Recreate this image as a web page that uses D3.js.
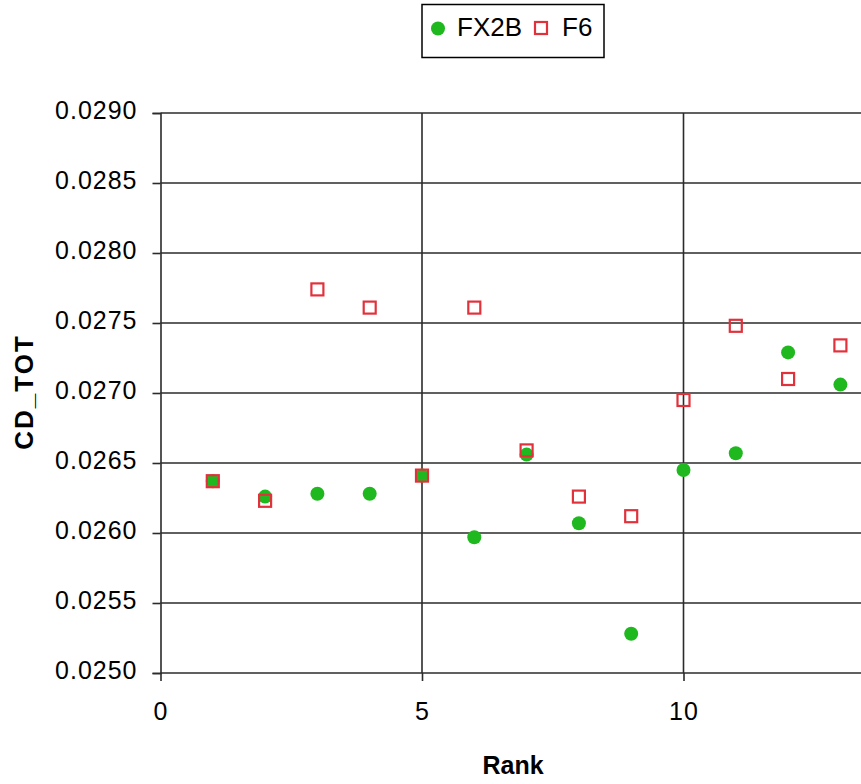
<!DOCTYPE html>
<html>
<head>
<meta charset="utf-8">
<script src="https://cdn.jsdelivr.net/npm/d3@7"></script>
<style>
  html, body { margin: 0; padding: 0; background: #fff; }
  svg { display: block; overflow: hidden; }
  text { font-family: Arial, "Liberation Sans", sans-serif; fill: #000; }
</style>
</head>
<body>
<script>
// Rank of each design
const ranks = [1, 2, 3, 4, 5, 6, 7, 8, 9, 10, 11, 12, 13];
// Total drag coefficient per rank, for each series
const fx2b = [0.02637, 0.02626, 0.02628, 0.02628, 0.02641, 0.02597, 0.02656, 0.02607, 0.02528, 0.02645, 0.02657, 0.02729, 0.02706];
const f6   = [0.02637, 0.02623, 0.02774, 0.02761, 0.02641, 0.02761, 0.02659, 0.02626, 0.02612, 0.02695, 0.02748, 0.02710, 0.02734];
// Axis ticks
const yTicks = [0.0250, 0.0255, 0.0260, 0.0265, 0.0270, 0.0275, 0.0280, 0.0285, 0.0290];
const xTicks = [0, 5, 10];
const seriesNames = ["FX2B", "F6"];

const W = 861, H = 784;
const plotLeft = 160.5, plotTop = 113, plotBottom = 673;
const unit = 52.3;

const svg = d3.select("body").append("svg").attr("width", W).attr("height", H);

const x = d3.scaleLinear().domain([0, 14]).range([plotLeft, plotLeft + 14 * unit]);
const y = d3.scaleLinear().domain([0.0250, 0.0290]).range([plotBottom, plotTop]);

const gridColor = "#2b2b2b";
const green = "#1fb81f";
const red = "#e1323c";
const font = "Arial, 'Liberation Sans', sans-serif";

// Horizontal gridlines
svg.append("g").selectAll("line").data(yTicks).join("line")
  .attr("x1", plotLeft).attr("x2", W + 40)
  .attr("y1", d => y(d)).attr("y2", d => y(d))
  .attr("stroke", gridColor).attr("stroke-width", 1.6);

// Vertical gridlines
svg.append("g").selectAll("line").data(xTicks.filter(d => d > 0)).join("line")
  .attr("x1", d => x(d)).attr("x2", d => x(d))
  .attr("y1", plotTop).attr("y2", plotBottom)
  .attr("stroke", gridColor).attr("stroke-width", 1.6);

// Y axis
const yAxis = svg.append("g").attr("transform", `translate(${plotLeft},0)`)
  .call(d3.axisLeft(y).tickValues(yTicks).tickFormat(d3.format(".4f")).tickSize(8).tickPadding(15));
yAxis.select(".domain").attr("stroke", gridColor).attr("stroke-width", 1.6);
yAxis.selectAll(".tick line").attr("stroke", gridColor).attr("stroke-width", 1.6);
yAxis.selectAll(".tick text").attr("font-size", 25).attr("dy", "0.2em")
  .attr("letter-spacing", 1).style("font-family", font);

// X axis
const xAxis = svg.append("g").attr("transform", `translate(0,${plotBottom})`)
  .call(d3.axisBottom(x).tickValues(xTicks).tickFormat(d3.format("d")).tickSize(8).tickPadding(21));
xAxis.select(".domain").remove();
xAxis.selectAll(".tick line").attr("stroke", gridColor).attr("stroke-width", 1.6);
xAxis.selectAll(".tick text").attr("font-size", 25)
  .attr("letter-spacing", 1).style("font-family", font);

// Axis titles
svg.append("text").attr("x", 513).attr("y", 774).attr("text-anchor", "middle")
  .attr("font-size", 25).attr("font-weight", "bold").text("Rank");
svg.append("text").attr("transform", `translate(33,${392}) rotate(-90)`)
  .attr("text-anchor", "middle").attr("font-size", 26).attr("font-weight", "bold")
  .attr("letter-spacing", 2).text("CD_TOT");

// FX2B markers
svg.append("g").selectAll("circle").data(ranks).join("circle")
  .attr("cx", (d) => x(d)).attr("cy", (d, i) => y(fx2b[i])).attr("r", 7)
  .attr("fill", green);

// F6 markers
const s = 12;
svg.append("g").selectAll("rect").data(ranks).join("rect")
  .attr("x", d => x(d) - s / 2).attr("y", (d, i) => y(f6[i]) - s / 2)
  .attr("width", s).attr("height", s)
  .attr("fill", "none").attr("stroke", red).attr("stroke-width", 2.2);

// Legend
const lg = svg.append("g");
lg.append("rect").attr("x", 422).attr("y", 4.5).attr("width", 182).attr("height", 53)
  .attr("fill", "#fff").attr("stroke", "#000").attr("stroke-width", 1.5);
lg.append("circle").attr("cx", 438).attr("cy", 28.5).attr("r", 7).attr("fill", green);
lg.append("text").attr("x", 457).attr("y", 35.5).attr("font-size", 26).text(seriesNames[0]);
lg.append("rect").attr("x", 535).attr("y", 22).attr("width", s).attr("height", s)
  .attr("fill", "none").attr("stroke", red).attr("stroke-width", 2.2);
lg.append("text").attr("x", 562).attr("y", 35.5).attr("font-size", 26).text(seriesNames[1]);
</script>
</body>
</html>
